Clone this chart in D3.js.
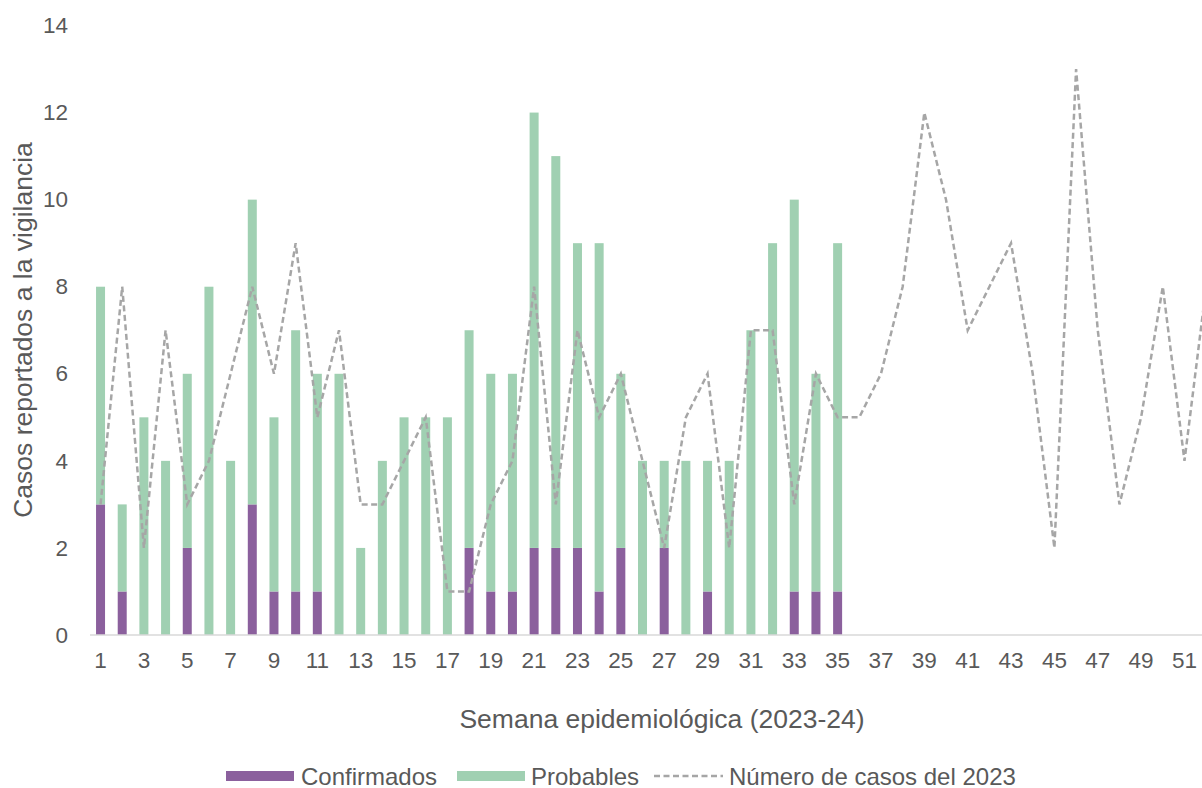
<!DOCTYPE html>
<html>
<head>
<meta charset="utf-8">
<script src="https://cdn.jsdelivr.net/npm/d3@7"></script>
<style>
  html, body { margin: 0; padding: 0; background: #ffffff; }
  svg { display: block; font-family: "Liberation Sans", Arial, sans-serif; }
</style>
</head>
<body>
<svg id="chart" width="1202" height="788"></svg>
<script>
// Weeks 1..52
const weeks = d3.range(1, 53);
// Cases 2023-24 (weeks 1..35)
const confirmados = [3,1,0,0,2,0,0,3,1,1,1,0,0,0,0,0,0,2,1,1,2,2,2,1,2,0,2,0,1,0,0,0,1,1,1];
const probables   = [5,2,5,4,4,8,4,7,4,6,5,6,2,4,5,5,5,5,5,5,10,9,7,8,4,4,2,4,3,4,7,9,9,5,8];
// Number of cases in 2023 (weeks 1..52)
const casos2023 = [3,8,2,7,3,4,6,8,6,9,5,7,3,3,4,5,1,1,3,4,8,3,7,5,6,4,2,5,6,2,7,7,3,6,5,5,6,8,12,10,7,8,9,6,2,13,7,3,5,8,4,8];
const yTicks = [0,2,4,6,8,10,12,14];
const xTickLabels = weeks.filter(w => w % 2 === 1);
const seriesNames = ["Confirmados", "Probables", "Número de casos del 2023"];
const colors = { conf: "#8B609D", prob: "#A0D0B2", line: "#A6A6A6", text: "#595959", axis: "#D9D9D9" };

const svg = d3.select("#chart");

const x = d3.scaleBand().domain(weeks).range([89.7, 1217]).paddingInner(0.585).paddingOuter(0.2925);
const y = d3.scaleLinear().domain([0, 14]).range([635, 25.5]);

// stacked data
const barData = confirmados.map((c, i) => ({ week: i + 1, conf: c, prob: probables[i] }));
const stack = d3.stack().keys(["conf", "prob"]);
const stacked = stack(barData);

const g = svg.append("g");

g.selectAll("g.series").data(stacked).join("g")
  .attr("fill", d => d.key === "conf" ? colors.conf : colors.prob)
  .selectAll("rect").data(d => d).join("rect")
  .attr("x", d => x(d.data.week))
  .attr("width", x.bandwidth())
  .attr("y", d => y(d[1]))
  .attr("height", d => y(d[0]) - y(d[1]));

// x axis line
const xAxis = d3.axisBottom(x).tickValues(xTickLabels).tickSize(0).tickPadding(17);
const xg = svg.append("g").attr("transform", "translate(0,635)").call(xAxis);
xg.select(".domain").attr("stroke", colors.axis).attr("stroke-width", 1.5).attr("d", "M90,0H1217");
xg.selectAll("text").attr("fill", colors.text).attr("font-size", 22.5).attr("font-family", "Liberation Sans, Arial, sans-serif");

// y axis
const yAxis = d3.axisLeft(y).tickValues(yTicks).tickSize(0).tickPadding(0);
const yg = svg.append("g").attr("transform", "translate(68,0)").call(yAxis);
yg.select(".domain").remove();
yg.selectAll("text").attr("fill", colors.text).attr("font-size", 22.5).attr("font-family", "Liberation Sans, Arial, sans-serif");

// 2023 line
const line = d3.line()
  .x((d, i) => x(weeks[i]) + x.bandwidth() / 2)
  .y(d => y(d));
svg.append("path")
  .datum(casos2023)
  .attr("d", line)
  .attr("fill", "none")
  .attr("stroke", colors.line)
  .attr("stroke-width", 2.5)
  .attr("stroke-dasharray", "6,3.5");

// axis titles
svg.append("text")
  .attr("transform", "translate(32,330) rotate(-90)")
  .attr("text-anchor", "middle")
  .attr("fill", colors.text)
  .attr("font-size", 26.5)
  .text("Casos reportados a la vigilancia");

svg.append("text")
  .attr("x", 662).attr("y", 728)
  .attr("text-anchor", "middle")
  .attr("fill", colors.text)
  .attr("font-size", 26.5)
  .text("Semana epidemiológica (2023-24)");

// legend
const legend = svg.append("g").attr("font-size", 24).attr("fill", colors.text);
const ly = 776;
legend.append("rect").attr("x", 226).attr("y", ly - 5).attr("width", 68).attr("height", 10).attr("fill", colors.conf);
legend.append("text").attr("x", 301).attr("y", ly + 8.5).text(seriesNames[0]);
legend.append("rect").attr("x", 457).attr("y", ly - 5).attr("width", 68).attr("height", 10).attr("fill", colors.prob);
legend.append("text").attr("x", 531).attr("y", ly + 8.5).text(seriesNames[1]);
legend.append("line").attr("x1", 654).attr("x2", 723).attr("y1", ly).attr("y2", ly)
  .attr("stroke", colors.line).attr("stroke-width", 2.5).attr("stroke-dasharray", "6,3.5");
legend.append("text").attr("x", 729).attr("y", ly + 8.5).text(seriesNames[2]);
</script>
</body>
</html>
